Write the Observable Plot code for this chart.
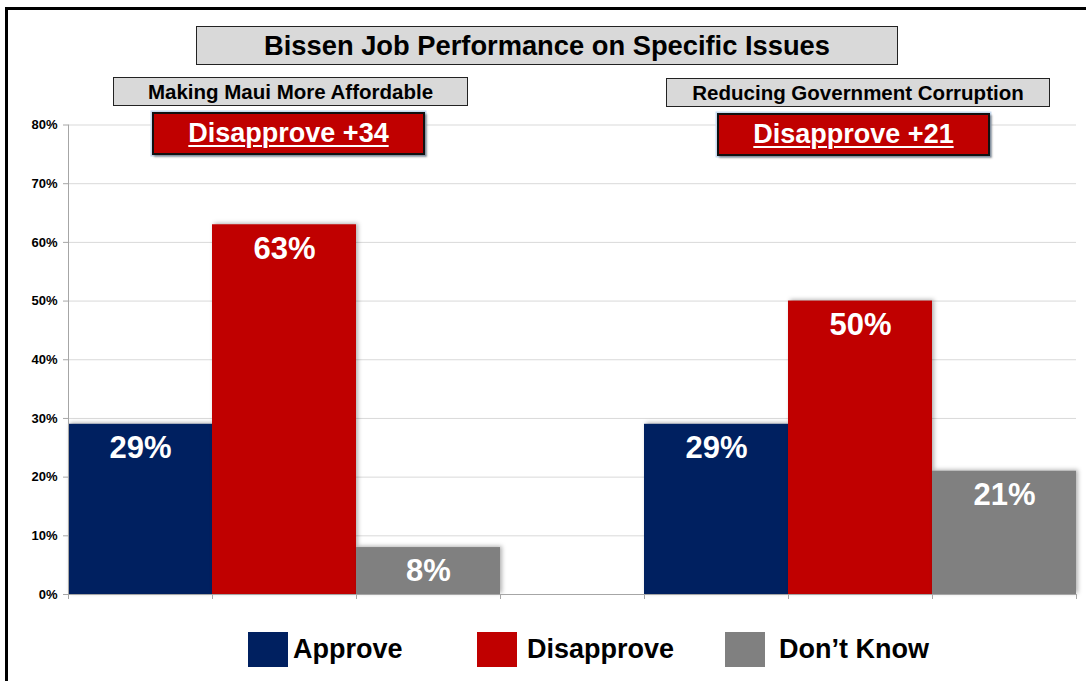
<!DOCTYPE html>
<html><head><meta charset="utf-8">
<script src="https://cdn.jsdelivr.net/npm/d3@7"></script>
<script src="https://cdn.jsdelivr.net/npm/@observablehq/plot@0.6"></script>
<style>
body{margin:0;background:#fff;font-family:"Liberation Sans",Arial,sans-serif;}
#wrap{position:relative;width:1086px;height:681px;overflow:hidden;background:#fff;}
#frame{position:absolute;left:5px;top:7px;width:1100px;height:700px;border:3px solid #000;box-sizing:border-box;}
#chart{position:absolute;left:0;top:0;}
#chart svg{display:block;overflow:visible;}
.box{position:absolute;display:flex;align-items:center;justify-content:center;font-weight:bold;box-sizing:border-box;white-space:nowrap;}
.title{left:196px;top:26px;width:702px;height:39px;background:#d9d9d9;border:1px solid #222;font-size:27.3px;color:#000;}
.sub{background:#d9d9d9;border:1px solid #222;font-size:20.5px;color:#000;height:29px;}
.net{background:#c00000;border:2px solid #111;color:#fff;font-size:27px;height:43px;width:273px;
 box-shadow:2px 2px 2px rgba(0,0,0,0.35),0 0 0 1.5px #c9dcf0;}
.net span{text-decoration:underline;text-decoration-thickness:2px;text-underline-offset:3px;}
.leg{position:absolute;top:631px;height:36px;display:flex;align-items:center;}
.leg .sw{width:40px;height:35px;}
.leg .lab{font-weight:bold;font-size:27px;color:#000;}
g[aria-label="bar"] rect{filter:drop-shadow(2px -1px 2px rgba(0,0,0,0.3));}
</style>
</head><body>
<div id="wrap">
  <div id="frame"></div>
  <div id="chart"></div>
</div>
<script>
// ---- data ----
const chartTitle = "Bissen Job Performance on Specific Issues";
const issues = ["Making Maui More Affordable", "Reducing Government Corruption"];
const responses = ["Approve", "Disapprove", "Don\u2019t Know"];
const approve = [29, 29];
const disapprove = [63, 50];
const dontKnow = [8, 21];
const netLabels = ["Disapprove +34", "Disapprove +21"];
const yTicks = [0, 10, 20, 30, 40, 50, 60, 70, 80];
const colors = ["#002060", "#C00000", "#808080"];

// ---- build table ----
const series = [approve, disapprove, dontKnow];
const rows = [];
issues.forEach((iss, i) => responses.forEach((r, j) =>
  rows.push({issue: iss, response: r, value: series[j][i], key: iss + "|" + r})));
const gapKey = "\u00a0";
const domain = [...rows.filter(d => d.issue === issues[0]).map(d => d.key), gapKey,
                ...rows.filter(d => d.issue === issues[1]).map(d => d.key)];

const W = 1086, H = 620, mL = 68, mR = 10, mT = 124.5, mB = 26;
const step = (W - mL - mR) / domain.length;
const axisGray = "#a6a6a6";

const plot = Plot.plot({
  width: W, height: H,
  marginLeft: mL, marginRight: mR, marginTop: mT, marginBottom: mB,
  style: {fontFamily: "'Liberation Sans', Arial, sans-serif", background: "transparent", overflow: "visible"},
  x: {domain, padding: 0, axis: null},
  y: {domain: [0, 80], axis: null},
  color: {domain: responses, range: colors},
  marks: [
    Plot.gridY(yTicks.filter(d => d > 0), {stroke: "#d9d9d9", strokeOpacity: 1}),
    Plot.barY(rows, {x: "key", y: "value", fill: "response"}),
    Plot.ruleY([0], {stroke: axisGray}),
    Plot.ruleX([domain[0]], {y1: 0, y2: 80, dx: -step / 2, stroke: axisGray}),
    Plot.ruleX(domain, {y1: 0, y2: 0, dx: -step / 2, insetBottom: -5, stroke: axisGray}),
    Plot.ruleX([domain[domain.length - 1]], {y1: 0, y2: 0, dx: step / 2, insetBottom: -5, stroke: axisGray}),
    Plot.axisY(yTicks, {tickSize: 5, tickPadding: 6, tickFormat: d => d + "%", stroke: axisGray, fill: "#000",
      fontSize: 13, fontWeight: "bold", label: null}),
    Plot.text(rows, {x: "key", y: "value", text: d => d.value + "%", dy: 24, fill: "white",
      fontSize: 31, fontWeight: "bold"})
  ]
});
document.getElementById("chart").appendChild(plot);

// ---- titles / annotations ----
const wrap = document.getElementById("wrap");
function addBox(cls, text, style) {
  const d = document.createElement("div");
  d.className = "box " + cls;
  Object.assign(d.style, style);
  if (cls === "net") { const s = document.createElement("span"); s.textContent = text; d.appendChild(s); }
  else d.textContent = text;
  wrap.appendChild(d);
  return d;
}
addBox("title", chartTitle, {});
addBox("sub", issues[0], {left: "113px", top: "77px", width: "355px"});
addBox("sub", issues[1], {left: "666px", top: "78px", width: "384px"});
addBox("net", netLabels[0], {left: "152px", top: "112px"});
addBox("net", netLabels[1], {left: "717px", top: "113px"});

// ---- legend ----
const legendLeft = [248, 477, 725];
const legendGap = [5, 10, 14];
responses.forEach((r, i) => {
  const item = document.createElement("div");
  item.className = "leg";
  item.style.left = legendLeft[i] + "px";
  const sw = document.createElement("div");
  sw.className = "sw"; sw.style.background = colors[i];
  const lab = document.createElement("div");
  lab.className = "lab"; lab.textContent = r; lab.style.marginLeft = legendGap[i] + "px";
  item.appendChild(sw); item.appendChild(lab);
  wrap.appendChild(item);
});
</script>
</body></html>
